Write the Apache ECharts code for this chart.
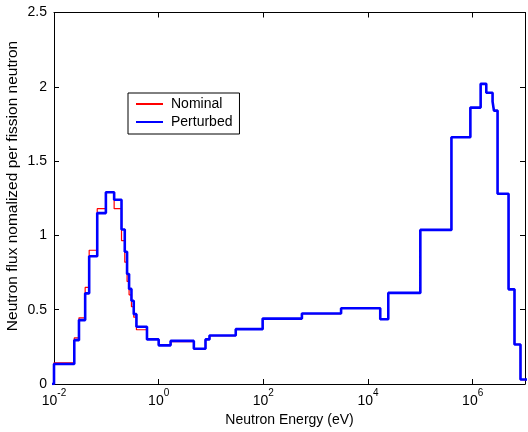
<!DOCTYPE html>
<html>
<head>
<meta charset="utf-8">
<script src="https://cdn.jsdelivr.net/npm/echarts@6/dist/echarts.min.js"></script>
<style>
  html, body { margin: 0; padding: 0; background: #ffffff; }
  #chart { width: 528px; height: 432px; }
</style>
</head>
<body>
<div id="chart"></div>
<script>
// Energy group boundaries (eV), shared by both spectra
const groupEdges = [
  0.005, 0.01, 0.0244, 0.030, 0.0394, 0.047, 0.067, 0.098, 0.141, 0.195,
  0.225, 0.249, 0.272, 0.302, 0.334, 0.376, 0.598, 1.0, 1.69, 4.7,
  7.85, 9.36, 29.7, 97, 546, 3060, 17140, 24400, 1.0e5, 3.93e5,
  9.04e5, 1.42e6, 1.82e6, 2.4e6, 2.55e6, 2.99e6, 4.85e6, 6.3e6, 8.2e6, 2.0e7
];

// Group flux per fission neutron, one value per group
const nominalFlux = [
  0, 0.143, 0.31, 0.445, 0.65, 0.90, 1.18, 1.29, 1.18, 0.965,
  0.82, 0.69, 0.60, 0.52, 0.45, 0.365, 0.30, 0.26, 0.285, 0.237,
  0.30, 0.326, 0.369, 0.44, 0.474, 0.51, 0.436, 0.613, 1.037, 1.66,
  1.86, 2.02, 1.96, 1.90, 1.84, 1.28, 0.637, 0.266, 0.03
];
const perturbedFlux = [
  0, 0.135, 0.295, 0.43, 0.61, 0.86, 1.15, 1.29, 1.24, 1.04,
  0.89, 0.74, 0.64, 0.56, 0.47, 0.385, 0.30, 0.26, 0.29, 0.237,
  0.30, 0.326, 0.369, 0.44, 0.474, 0.51, 0.436, 0.613, 1.037, 1.66,
  1.86, 2.02, 1.96, 1.90, 1.84, 1.28, 0.637, 0.266, 0.03
];

// Labelled decades on the energy axis
const xTickExponents = [-2, 0, 2, 4, 6];
const xRange = [1e-2, 1e7];
const yRange = [0, 2.5];
const yStep = 0.5;

const FONT = 'Liberation Sans, Arial, Helvetica, sans-serif';

// Histogram: each group value starts at its lower edge; the last value is
// repeated at the final upper edge so the top step is closed.
function toSteps(edges, flux) {
  const pts = flux.map((v, i) => [edges[i], v]);
  pts.push([edges[edges.length - 1], flux[flux.length - 1]]);
  return pts;
}

function decadeLabel(v) {
  const e = Math.log10(v);
  const r = Math.round(e);
  if (Math.abs(e - r) > 1e-6 || xTickExponents.indexOf(r) < 0) return '';
  return '{b|10}{s|' + r + '}';
}

const tickStyle = { show: true, inside: true, length: 5, lineStyle: { color: '#000', width: 1 } };
const lineStyleAxis = { show: true, onZero: false, lineStyle: { color: '#000', width: 1 } };

const chart = echarts.init(document.getElementById('chart'), null, { renderer: 'canvas' });

chart.setOption({
  animation: false,
  backgroundColor: '#ffffff',
  textStyle: { fontFamily: FONT, color: '#000' },
  grid: { left: 54, right: 0.5, top: 12.5, bottom: 46.5, containLabel: false },
  legend: {
    orient: 'vertical',
    left: 128,
    top: 93,
    padding: [4, 7, 5, 7],
    itemGap: 4,
    itemWidth: 27,
    itemHeight: 14,
    backgroundColor: '#ffffff',
    borderColor: '#000',
    borderWidth: 1,
    borderRadius: 0,
    itemStyle: { opacity: 0 },
    textStyle: { fontFamily: FONT, fontSize: 14, color: '#000', padding: [0, 0, 0, 3] },
    data: ['Nominal', 'Perturbed']
  },
  graphic: [
    {
      type: 'text',
      x: 13,
      y: 186,
      rotation: Math.PI / 2,
      style: {
        text: 'Neutron flux nomalized per fission neutron',
        fontFamily: FONT,
        fontSize: 15.5,
        fill: '#000',
        align: 'center',
        verticalAlign: 'middle'
      }
    }
  ],
  xAxis: [
    {
      type: 'log',
      logBase: 100,
      min: xRange[0],
      max: xRange[1],
      position: 'bottom',
      name: 'Neutron Energy (eV)',
      nameLocation: 'middle',
      nameGap: 29,
      nameTextStyle: { fontFamily: FONT, fontSize: 14, color: '#000' },
      axisLine: lineStyleAxis,
      axisTick: tickStyle,
      minorTick: { show: false },
      splitLine: { show: false },
      axisLabel: {
        margin: 4,
        formatter: decadeLabel,
        rich: {
          b: { fontFamily: FONT, fontSize: 14, color: '#000', lineHeight: 26, verticalAlign: 'middle' },
          s: { fontFamily: FONT, fontSize: 10, color: '#000', lineHeight: 12, verticalAlign: 'top' }
        }
      }
    },
    {
      type: 'log',
      logBase: 100,
      min: xRange[0],
      max: xRange[1],
      position: 'top',
      axisLine: lineStyleAxis,
      axisTick: tickStyle,
      minorTick: { show: false },
      splitLine: { show: false },
      axisLabel: { show: false }
    }
  ],
  yAxis: [
    {
      type: 'value',
      min: yRange[0],
      max: yRange[1],
      interval: yStep,
      position: 'left',
      axisLine: lineStyleAxis,
      axisTick: tickStyle,
      splitLine: { show: false },
      axisLabel: { margin: 7, fontFamily: FONT, fontSize: 14, color: '#000' }
    },
    {
      type: 'value',
      min: yRange[0],
      max: yRange[1],
      interval: yStep,
      position: 'right',
      axisLine: lineStyleAxis,
      axisTick: tickStyle,
      splitLine: { show: false },
      axisLabel: { show: false }
    }
  ],
  series: [
    {
      name: 'Nominal',
      type: 'line',
      step: 'end',
      xAxisIndex: 0,
      yAxisIndex: 0,
      symbol: 'none',
      clip: true,
      data: toSteps(groupEdges, nominalFlux),
      lineStyle: { color: '#ff0000', width: 1.2 },
      itemStyle: { color: '#ff0000' },
      z: 2
    },
    {
      name: 'Perturbed',
      type: 'line',
      step: 'end',
      xAxisIndex: 0,
      yAxisIndex: 0,
      symbol: 'none',
      clip: true,
      data: toSteps(groupEdges, perturbedFlux),
      lineStyle: { color: '#0000ff', width: 2.6 },
      itemStyle: { color: '#0000ff' },
      z: 3
    }
  ]
});
</script>
</body>
</html>
